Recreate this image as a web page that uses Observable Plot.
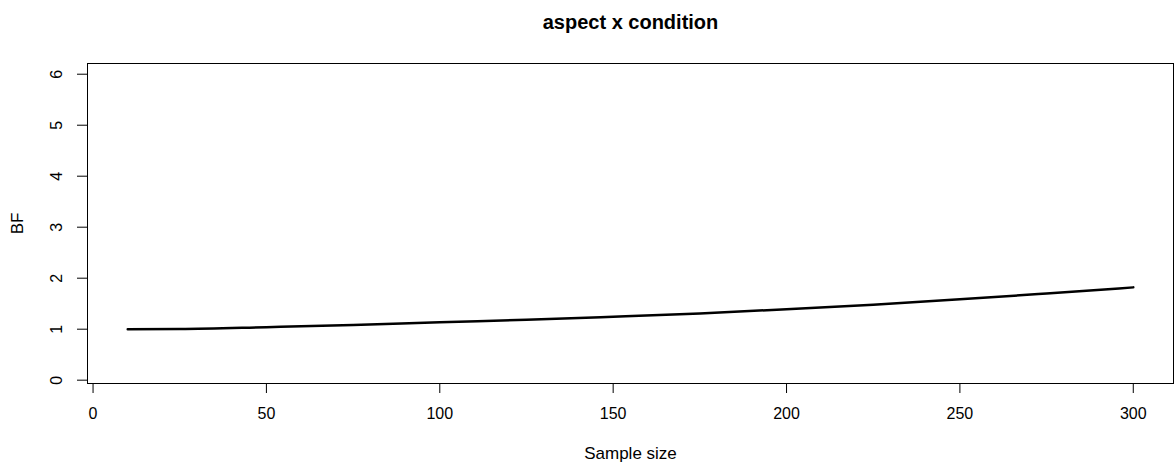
<!DOCTYPE html>
<html>
<head>
<meta charset="utf-8">
<script src="https://cdn.jsdelivr.net/npm/d3@7"></script>
<script src="https://cdn.jsdelivr.net/npm/@observablehq/plot@0.6"></script>
<style>
  html, body { margin: 0; padding: 0; background: #fff; }
  #chart svg { display: block; }
</style>
</head>
<body>
<div id="chart"></div>
<script>
const titleText = "aspect x condition";
const xLabel = "Sample size";
const yLabel = "BF";
const sampleSizes = [10, 25, 50, 75, 100, 125, 150, 175, 200, 225, 250, 275, 300];
const bfValues   = [1.00, 1.005, 1.04, 1.08, 1.135, 1.185, 1.245, 1.31, 1.39, 1.48, 1.585, 1.70, 1.82];
const xTicks = [0, 50, 100, 150, 200, 250, 300];
const yTicks = [0, 1, 2, 3, 4, 5, 6];

const data = sampleSizes.map((n, i) => ({n, bf: bfValues[i]}));

const chart = Plot.plot({
  width: 1174,
  height: 464,
  marginLeft: 87,
  marginRight: 1,
  marginTop: 63,
  marginBottom: 81,
  style: {fontFamily: "'Liberation Sans', Arial, sans-serif", fontSize: "16px", color: "#000", background: "#fff"},
  x: {domain: [-1.6, 311.6]},
  y: {domain: [-0.065, 6.21]},
  marks: [
    Plot.frame({stroke: "#000", strokeWidth: 1}),
    Plot.axisX(xTicks, {tickSize: 10, tickPadding: 14, tickFormat: d => String(d), label: null, fontSize: 16, stroke: "#000"}),
    Plot.axisY(yTicks, {tickSize: 10, tickPadding: 16, tickRotate: -90, tickFormat: d => String(d), label: null, fontSize: 16, stroke: "#000"}),
    Plot.line(data, {x: "n", y: "bf", stroke: "#000", strokeWidth: 2.5, curve: "monotone-x"}),
    Plot.text([titleText], {frameAnchor: "top", dy: -41, lineAnchor: "middle", fontWeight: "bold", fontSize: 20, fill: "#000"}),
    Plot.text([xLabel], {frameAnchor: "bottom", dy: 70, lineAnchor: "middle", fontSize: 17, fill: "#000"}),
    Plot.text([yLabel], {frameAnchor: "left", dx: -70, rotate: -90, textAnchor: "middle", lineAnchor: "middle", fontSize: 17, fill: "#000"})
  ]
});
document.getElementById("chart").appendChild(chart);
</script>
</body>
</html>
